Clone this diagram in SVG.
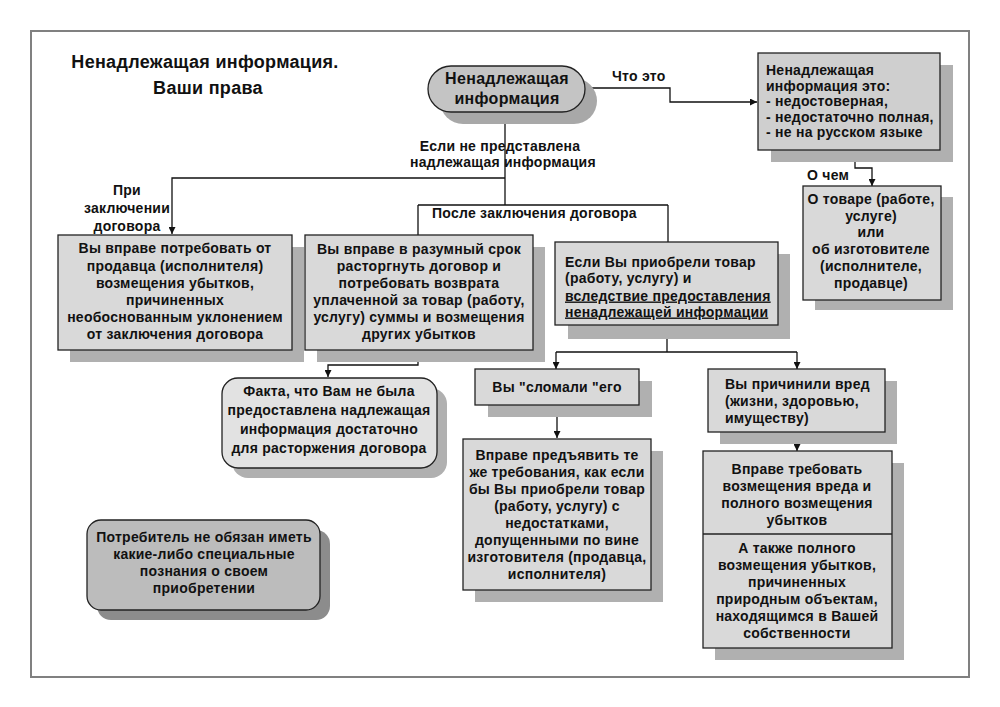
<svg xmlns="http://www.w3.org/2000/svg" width="1000" height="707" viewBox="0 0 1000 707">
<defs>
<style>
.t{font-family:"Liberation Sans",Arial,sans-serif;font-weight:bold;font-size:14px;letter-spacing:0.25px;fill:#111}
.c{text-anchor:middle}
.box{fill:#d9d9d9;stroke:#222;stroke-width:1.3}
.sh{fill:#b0b0b0}
.ln{fill:none;stroke:#111;stroke-width:1.3}
.ar{marker-end:url(#arr)}
</style>
<marker id="arr" viewBox="0 0 10 10" refX="10" refY="5" markerWidth="7" markerHeight="7" markerUnits="userSpaceOnUse" orient="auto">
<path d="M0,0 L10,5 L0,10 z" fill="#111"/>
</marker>
</defs>
<rect x="0" y="0" width="1000" height="707" fill="#fff"/>
<rect x="31" y="31" width="938" height="646" fill="none" stroke="#808080" stroke-width="2"/>

<g id="title">
<text class="t c" x="205" y="68" style="font-size:18px;letter-spacing:0.3px">Ненадлежащая информация.</text>
<text class="t c" x="208" y="94" style="font-size:18px;letter-spacing:0.3px">Ваши права</text>
</g>

<g id="connectors">
<path class="ln ar" d="M585,88 H670 V102 H757"/>
<path class="ln" d="M505,112 V205"/>
<path class="ln ar" d="M505,178 H172 V234"/>
<path class="ln" d="M418,205 H668 M418,205 V235 M668,205 V242"/>
<path class="ln ar" d="M418,350 V365 H328 V377"/>
<path class="ln" d="M667,325 V352 M556,352 H797"/>
<path class="ln ar" d="M556,352 V369"/>
<path class="ln ar" d="M797,352 V369"/>
<path class="ln ar" d="M557,405 V438"/>
<path class="ln ar" d="M797,432 V451"/>
<path class="ln ar" d="M855,150 V168 H872 V186"/>
<text class="t" x="612" y="81">Что это</text>
<text class="t c" x="500" y="151">Если не представлена</text>
<text class="t c" x="503" y="167">надлежащая информация</text>
<text class="t c" x="127" y="195">При</text>
<text class="t c" x="127" y="213">заключении</text>
<text class="t c" x="127" y="231">договора</text>
<text class="t" x="432" y="218">После заключения договора</text>
<text class="t" x="807" y="180">О чем</text>
</g>

<g id="oval">
<rect x="440" y="78" width="157" height="46" rx="23" fill="#a8a8a8"/>
<rect x="428" y="66" width="157" height="46" rx="23" fill="#c4c4c4" stroke="#222" stroke-width="1.3"/>
<text class="t c" x="507" y="84" style="font-size:16px;letter-spacing:0.3px">Ненадлежащая</text>
<text class="t c" x="507" y="104" style="font-size:16px;letter-spacing:0.3px">информация</text>
</g>

<g id="what-is">
<rect class="sh" x="771" y="65" width="182" height="97"/>
<rect class="box" x="758" y="53" width="182" height="97" style="fill:#cfcfcf"/>
<text class="t" x="766" y="75">Ненадлежащая</text>
<text class="t" x="766" y="90.5">информация это:</text>
<text class="t" x="766" y="106">- недостоверная,</text>
<text class="t" x="766" y="121.5">- недостаточно полная,</text>
<text class="t" x="766" y="137">- не на русском языке</text>
</g>

<g id="about">
<rect class="sh" x="815" y="197" width="138" height="113"/>
<rect class="box" x="803" y="186" width="138" height="114"/>
<text class="t c" x="871" y="204">О товаре (работе,</text>
<text class="t c" x="871" y="221">услуге)</text>
<text class="t c" x="871" y="237">или</text>
<text class="t c" x="871" y="254">об изготовителе</text>
<text class="t c" x="871" y="271">(исполнителе,</text>
<text class="t c" x="871" y="288">продавце)</text>
</g>

<g id="conclusion">
<rect class="sh" x="70" y="247" width="234" height="115"/>
<rect class="box" x="58" y="235" width="234" height="115"/>
<text class="t c" x="175" y="253">Вы вправе потребовать от</text>
<text class="t c" x="175" y="271">продавца (исполнителя)</text>
<text class="t c" x="175" y="288">возмещения убытков,</text>
<text class="t c" x="175" y="305">причиненных</text>
<text class="t c" x="175" y="322">необоснованным уклонением</text>
<text class="t c" x="175" y="339">от заключения договора</text>
</g>

<g id="terminate">
<rect class="sh" x="317" y="247" width="228" height="115"/>
<rect class="box" x="305" y="235" width="228" height="115"/>
<text class="t c" x="419" y="254">Вы вправе в разумный срок</text>
<text class="t c" x="419" y="271">расторгнуть договор и</text>
<text class="t c" x="419" y="288">потребовать возврата</text>
<text class="t c" x="419" y="305">уплаченной за товар (работу,</text>
<text class="t c" x="419" y="322">услугу) суммы и возмещения</text>
<text class="t c" x="419" y="339">других убытков</text>
</g>

<g id="bought">
<rect class="sh" x="568" y="254" width="222" height="85"/>
<rect class="box" x="555" y="242" width="223" height="83"/>
<text class="t" x="565" y="266.5">Если  Вы приобрели товар</text>
<text class="t" x="565" y="282.5">(работу, услугу) и</text>
<text class="t" x="565" y="300.5" text-decoration="underline">вследствие  предоставления</text>
<text class="t" x="565" y="316.5" text-decoration="underline">ненадлежащей информации</text>
</g>

<g id="fact">
<rect x="232" y="388" width="215" height="90" rx="16" fill="#b0b0b0"/>
<rect x="222" y="378" width="215" height="90" rx="16" fill="#e2e2e2" stroke="#222" stroke-width="1.3"/>
<text class="t c" x="329" y="396">Факта, что Вам не была</text>
<text class="t c" x="329" y="415">предоставлена надлежащая</text>
<text class="t c" x="329" y="434">информация достаточно</text>
<text class="t c" x="329" y="453">для расторжения договора</text>
</g>

<g id="broke">
<rect class="sh" x="488" y="381" width="164" height="36"/>
<rect class="box" x="475" y="369" width="164" height="36"/>
<text class="t c" x="557" y="392">Вы "сломали "его</text>
</g>

<g id="claims">
<rect class="sh" x="475" y="451" width="188" height="151"/>
<rect class="box" x="463" y="439" width="188" height="151"/>
<text class="t c" x="557" y="460">Вправе  предъявить те</text>
<text class="t c" x="557" y="477">же требования, как если</text>
<text class="t c" x="557" y="494">бы Вы приобрели товар</text>
<text class="t c" x="557" y="511">(работу, услугу) с</text>
<text class="t c" x="557" y="528">недостатками,</text>
<text class="t c" x="557" y="545">допущенными по вине</text>
<text class="t c" x="557" y="562">изготовителя (продавца,</text>
<text class="t c" x="557" y="579">исполнителя)</text>
</g>

<g id="harm">
<rect class="sh" x="720" y="381" width="177" height="63"/>
<rect class="box" x="708" y="369" width="177" height="63"/>
<text class="t" x="725" y="389">Вы причинили вред</text>
<text class="t" x="725" y="406">(жизни, здоровью,</text>
<text class="t" x="725" y="423">имуществу)</text>
</g>

<g id="compensation">
<rect class="sh" x="715" y="463" width="189" height="197"/>
<rect class="box" x="703" y="451" width="189" height="197"/>
<line x1="703" y1="534" x2="892" y2="534" stroke="#222" stroke-width="1.3"/>
<text class="t c" x="797" y="474">Вправе  требовать</text>
<text class="t c" x="797" y="491">возмещения вреда и</text>
<text class="t c" x="797" y="508">полного возмещения</text>
<text class="t c" x="797" y="525">убытков</text>
<text class="t c" x="797" y="553">А также полного</text>
<text class="t c" x="797" y="570">возмещения убытков,</text>
<text class="t c" x="797" y="587">причиненных</text>
<text class="t c" x="797" y="604">природным объектам,</text>
<text class="t c" x="797" y="621">находящимся в Вашей</text>
<text class="t c" x="797" y="638">собственности</text>
</g>

<g id="note">
<rect x="97" y="530" width="233" height="90" rx="14" fill="#8c8c8c"/>
<rect x="87" y="520" width="233" height="90" rx="14" fill="#bcbcbc" stroke="#222" stroke-width="1.3"/>
<text class="t c" x="204" y="542">Потребитель не обязан иметь</text>
<text class="t c" x="204" y="559">какие-либо специальные</text>
<text class="t c" x="204" y="576">познания о своем</text>
<text class="t c" x="204" y="593">приобретении</text>
</g>
</svg>
